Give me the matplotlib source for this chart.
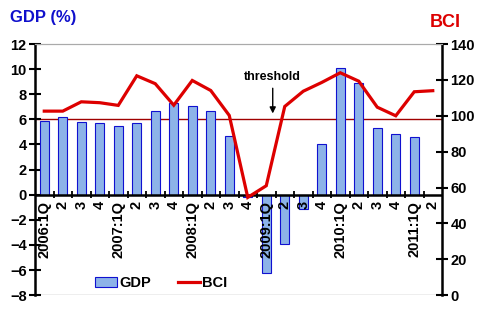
import matplotlib
matplotlib.use("Agg")
import matplotlib.pyplot as plt
import numpy as np

categories = ["2006:1Q", "2", "3", "4", "2007:1Q", "2", "3", "4",
              "2008:1Q", "2", "3", "4", "2009:1Q", "2", "3", "4",
              "2010:1Q", "2", "3", "4", "2011:1Q", "2"]
gdp = [5.9, 6.2, 5.8, 5.7, 5.5, 5.7, 6.7, 7.3, 7.1, 6.7, 4.7, -0.2,
       -6.2, -3.9, -1.1, 4.0, 10.1, 8.9, 5.3, 4.8, 4.6, np.nan]
bci = [102.6, 102.6, 107.8, 107.3, 105.8, 122.3, 117.9, 105.9, 119.7, 114.1,
       100.2, 54.5, 61.0, 105.2, 113.7, 118.6, 124.0, 119.3, 104.8, 100.0,
       113.4, 114.0]
threshold_gdp = 6.0

plt.rcParams['font.family'] = ['Liberation Sans', 'DejaVu Sans']
plt.rcParams['font.weight'] = 'bold'

fig = plt.figure(figsize=(4.87, 3.17), dpi=100)
ax = fig.add_axes([0.0719, 0.069, 0.8357, 0.792])
x = np.arange(len(categories))

bars = ax.bar(x, gdp, width=0.5, color='#8DB3E8', edgecolor='#1010D0',
              linewidth=0.8, label='GDP', zorder=2)
ax.set_xlim(-0.5, len(categories) - 0.5)
ax.set_ylim(-8, 12)
ax.set_yticks(range(-8, 13, 2))
ax.axhline(threshold_gdp, color='#A00000', lw=1.0, zorder=1)

ax2 = ax.twinx()
ln, = ax2.plot(x, bci, color='#DD0000', lw=2.3, label='BCI', zorder=3,
               solid_joinstyle='miter')
ax2.set_ylim(0, 140)
ax2.set_yticks(range(0, 141, 20))

for a in (ax, ax2):
    a.spines['top'].set_color('#AAAAAA')
    a.spines['bottom'].set_visible(False)
    a.spines['left'].set_linewidth(1.8)
    a.spines['right'].set_linewidth(1.8)
    a.tick_params(axis='y', which='major', direction='inout', length=8,
                  width=1.5, labelsize=10.5, pad=2)
ax.spines['right'].set_visible(False)
ax2.spines['left'].set_visible(False)
ax.axhline(-8, color='#AAAAAA', lw=1.0, zorder=1)

# x axis at zero with ticks between categories
ax.axhline(0, color='black', lw=1.8, zorder=4)
ax.set_xticks([])
for b in np.arange(0.5, len(categories) - 0.5, 1.0):
    ax.plot([b, b], [-0.3, 0.3], color='black', lw=1.3, zorder=4,
            solid_capstyle='butt')
for xi, lab in zip(x, categories):
    ax.text(xi, -0.5, lab, rotation=90, ha='center', va='top',
            fontsize=10.5, fontweight='bold', zorder=5)

ax.annotate('', xy=(12.35, 6.25), xytext=(12.35, 8.7),
            arrowprops=dict(arrowstyle='-|>', color='black', lw=1.0,
                            mutation_scale=9))
ax.text(12.35, 9.4, 'threshold', ha='center', va='center', fontsize=9,
        fontweight='bold')

fig.text(0.02, 0.945, 'GDP (%)', color='#1010CC', fontsize=12,
         fontweight='bold', va='center')
fig.text(0.882, 0.93, 'BCI', color='#DD0000', fontsize=13,
         fontweight='bold', va='center')

leg = ax.legend([bars, ln], ['GDP', 'BCI'], loc='center left',
                bbox_to_anchor=(0.147, 0.048), ncol=2, frameon=False,
                fontsize=10.5, handlelength=1.5, columnspacing=1.8,
                handletextpad=0.2, borderpad=0, borderaxespad=0)

fig.savefig('out.png', dpi=100)
